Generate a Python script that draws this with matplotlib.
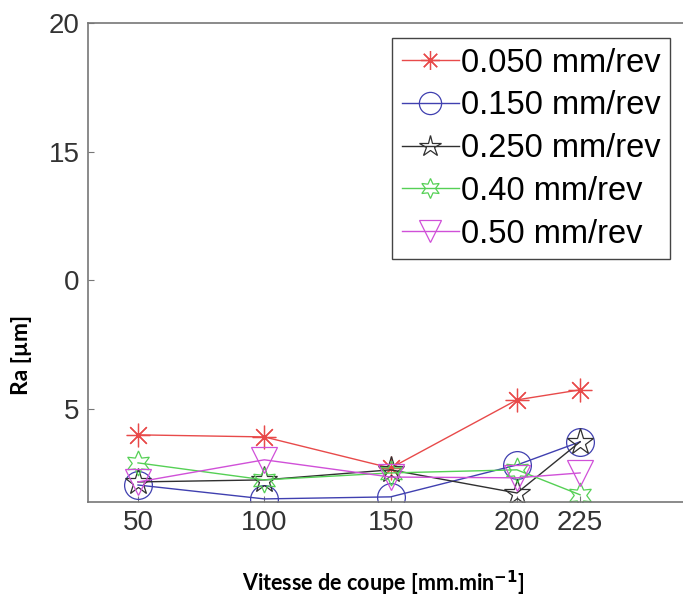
import matplotlib
matplotlib.use("Agg")
import matplotlib.pyplot as plt

# cutting speed (x) and roughness values
vitesse = [50, 100, 150, 200, 225]
ra_0050 = [3.99, 3.91, 2.70, 5.35, 5.74]
ra_0150 = [2.04, 1.50, 1.58, 2.82, 3.72]
ra_0250 = [2.16, 2.24, 2.63, 1.73, 3.72]
ra_040 = [2.90, 2.24, 2.51, 2.63, 1.66]
ra_050 = [2.16, 3.02, 2.35, 2.32, 2.51]

labels = ['0.050 mm/rev', '0.150 mm/rev', '0.250 mm/rev', '0.40 mm/rev', '0.50 mm/rev']
y_ticks = [20, 15, 10, 5]
y_ticklabels = ['20', '15', '0', '5']

fig = plt.figure(figsize=(6.83, 6.03), dpi=100)
ax = fig.add_axes([88/683, 101/603, 602/683, 479/603])

series = [
    (ra_0050, '#e84a4a', (8, 2, 0), 17),
    (ra_0150, '#4040b0', 'o', 20),
    (ra_0250, '#303030', '*', 20),
    (ra_040, '#55d055', (6, 1, 0), 18),
    (ra_050, '#d050d8', 'v', 19),
]
for (vals, col, mk, ms), lab in zip(series, labels):
    ax.plot(vitesse, vals, color=col, lw=1.0, marker=mk, ms=ms,
            mfc='none', mec=col, mew=0.9, label=lab)

ax.set_xlim(30.2, 268.5)
ax.set_ylim(1.38, 20)
ax.set_xticks(vitesse)
ax.set_yticks(y_ticks)
ax.set_yticklabels(y_ticklabels)
ax.tick_params(direction='in', length=4, width=0.8, colors='#777777',
               labelcolor='#333333', labelsize=20, pad=6)
for tl in ax.get_xticklabels() + ax.get_yticklabels():
    tl.set_family('Liberation Sans')
for s in ax.spines.values():
    s.set_color('#777777')
    s.set_linewidth(1.2)

leg = ax.legend(loc='upper right', bbox_to_anchor=(0.967, 0.969), borderaxespad=0,
                fancybox=False, edgecolor='#444444', framealpha=1,
                prop={'family': 'Liberation Sans', 'size': 23.5},
                handlelength=1.75, handletextpad=0.05, labelspacing=0.36,
                borderpad=0.3, markerscale=0.8)
leg.get_frame().set_linewidth(1.0)

fig.text(22/683, 1 - 355/603, 'Ra [µm]', rotation=90, ha='center', va='center',
         fontsize=16.5, fontweight='bold', family=['Lato', 'DejaVu Sans'])
fig.text(383/683, 1 - 583/603, 'Vitesse de coupe [mm.min$^{\\mathbf{-1}}$]',
         ha='center', va='center', fontsize=15.5, fontweight='bold',
         family=['Lato', 'DejaVu Sans'])

fig.savefig('out.png', dpi=100)
